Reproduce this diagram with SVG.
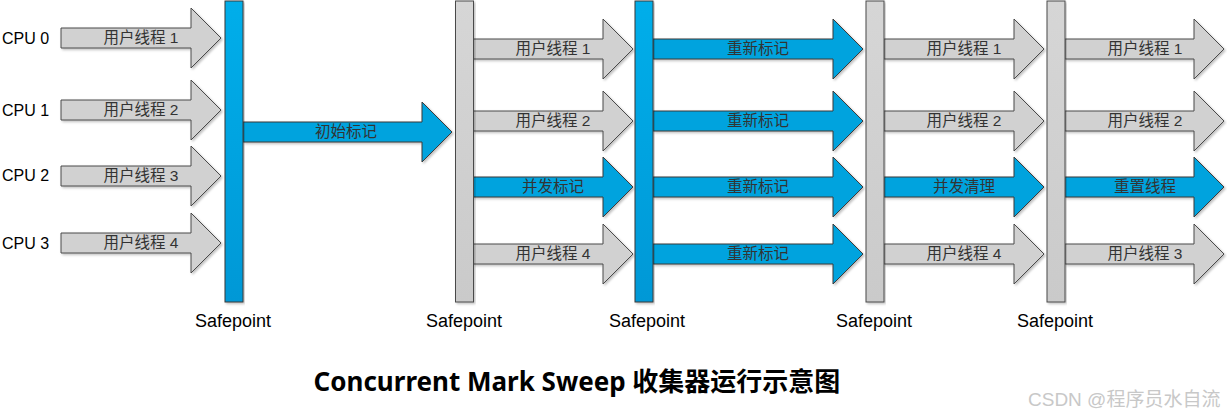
<svg xmlns="http://www.w3.org/2000/svg" width="1227" height="418" viewBox="0 0 1227 418">
<defs>
<linearGradient id="gBlue" x1="0" y1="0" x2="0" y2="1"><stop offset="0" stop-color="#00aeea"/><stop offset="1" stop-color="#0098d6"/></linearGradient>
<linearGradient id="gGray" x1="0" y1="0" x2="0" y2="1"><stop offset="0" stop-color="#d6d6d6"/><stop offset="1" stop-color="#cacaca"/></linearGradient>
<filter id="sh" x="-5%" y="-5%" width="115%" height="115%"><feDropShadow dx="1.5" dy="1.5" stdDeviation="1" flood-color="#000" flood-opacity="0.25"/></filter>
</defs>
<style>
.ga{fill:#d1d1d1;stroke:#4a4a4a;stroke-width:1;filter:url(#sh)}
.ba{fill:#00a3de;stroke:#3a3a3a;stroke-width:1;filter:url(#sh)}
.gb{fill:url(#gGray);stroke:#4a4a4a;stroke-width:1;filter:url(#sh)}
.bb{fill:url(#gBlue);stroke:#3a3a3a;stroke-width:1;filter:url(#sh)}
.lbl{font-family:"Liberation Sans","Noto Sans CJK SC",sans-serif;font-size:15.5px;fill:#333;text-anchor:middle}
.cpu{font-family:"Liberation Sans","Noto Sans CJK SC",sans-serif;font-size:16px;fill:#000}
.sp{font-family:"Liberation Sans",sans-serif;font-size:18px;fill:#000;text-anchor:middle}
.title{font-family:"Noto Sans","Noto Sans CJK SC",sans-serif;font-size:26px;font-weight:bold;fill:#000;text-anchor:middle}
.wm{font-family:"Liberation Sans","Noto Sans CJK SC",sans-serif;font-size:19px;fill:#c8c8c8}
</style>
<rect width="1227" height="418" fill="#fff"/>

<g id="cpu-labels">
<text class="cpu" x="2" y="44">CPU 0</text>
<text class="cpu" x="2" y="116">CPU 1</text>
<text class="cpu" x="2" y="181">CPU 2</text>
<text class="cpu" x="2" y="249">CPU 3</text>
</g>

<g id="connectors">
<!-- column 1 -->
<g id="c1r1"><polygon class="ga" points="61,28 191,28 191,8 221,38 191,68 191,48 61,48"/><text class="lbl" x="141" y="43">用户线程 1</text></g>
<g id="c1r2"><polygon class="ga" points="61,100 191,100 191,80 221,110 191,140 191,120 61,120"/><text class="lbl" x="141" y="115">用户线程 2</text></g>
<g id="c1r3"><polygon class="ga" points="61,166 191,166 191,146 221,176 191,206 191,186 61,186"/><text class="lbl" x="141" y="181">用户线程 3</text></g>
<g id="c1r4"><polygon class="ga" points="61,233 191,233 191,213 221,243 191,273 191,253 61,253"/><text class="lbl" x="141" y="248">用户线程 4</text></g>
<!-- initial mark -->
<g id="init"><polygon class="ba" points="243,122 422,122 422,102 452,132 422,162 422,142 243,142"/><text class="lbl" x="346" y="137">初始标记</text></g>
<!-- column 2 -->
<g id="c2r1"><polygon class="ga" points="473,39 603,39 603,19 633,49 603,79 603,59 473,59"/><text class="lbl" x="553" y="54">用户线程 1</text></g>
<g id="c2r2"><polygon class="ga" points="473,111 603,111 603,91 633,121 603,151 603,131 473,131"/><text class="lbl" x="553" y="126">用户线程 2</text></g>
<g id="c2r3"><polygon class="ba" points="473,177 603,177 603,157 633,187 603,217 603,197 473,197"/><text class="lbl" x="553" y="192">并发标记</text></g>
<g id="c2r4"><polygon class="ga" points="473,244 603,244 603,224 633,254 603,284 603,264 473,264"/><text class="lbl" x="553" y="259">用户线程 4</text></g>
<!-- column 3 -->
<g id="c3r1"><polygon class="ba" points="653,39 833,39 833,19 863,49 833,79 833,59 653,59"/><text class="lbl" x="758" y="54">重新标记</text></g>
<g id="c3r2"><polygon class="ba" points="653,111 833,111 833,91 863,121 833,151 833,131 653,131"/><text class="lbl" x="758" y="126">重新标记</text></g>
<g id="c3r3"><polygon class="ba" points="653,177 833,177 833,157 863,187 833,217 833,197 653,197"/><text class="lbl" x="758" y="192">重新标记</text></g>
<g id="c3r4"><polygon class="ba" points="653,244 833,244 833,224 863,254 833,284 833,264 653,264"/><text class="lbl" x="758" y="259">重新标记</text></g>
<!-- column 4 -->
<g id="c4r1"><polygon class="ga" points="884,39 1014,39 1014,19 1044,49 1014,79 1014,59 884,59"/><text class="lbl" x="964" y="54">用户线程 1</text></g>
<g id="c4r2"><polygon class="ga" points="884,111 1014,111 1014,91 1044,121 1014,151 1014,131 884,131"/><text class="lbl" x="964" y="126">用户线程 2</text></g>
<g id="c4r3"><polygon class="ba" points="884,177 1014,177 1014,157 1044,187 1014,217 1014,197 884,197"/><text class="lbl" x="964" y="192">并发清理</text></g>
<g id="c4r4"><polygon class="ga" points="884,244 1014,244 1014,224 1044,254 1014,284 1014,264 884,264"/><text class="lbl" x="964" y="259">用户线程 4</text></g>
<!-- column 5 -->
<g id="c5r1"><polygon class="ga" points="1065,39 1194,39 1194,19 1224,49 1194,79 1194,59 1065,59"/><text class="lbl" x="1145" y="54">用户线程 1</text></g>
<g id="c5r2"><polygon class="ga" points="1065,111 1194,111 1194,91 1224,121 1194,151 1194,131 1065,131"/><text class="lbl" x="1145" y="126">用户线程 2</text></g>
<g id="c5r3"><polygon class="ba" points="1065,177 1194,177 1194,157 1224,187 1194,217 1194,197 1065,197"/><text class="lbl" x="1145" y="192">重置线程</text></g>
<g id="c5r4"><polygon class="ga" points="1065,244 1194,244 1194,224 1224,254 1194,284 1194,264 1065,264"/><text class="lbl" x="1145" y="259">用户线程 3</text></g>
</g>

<g id="safepoint1"><rect class="bb" x="225" y="1" width="18" height="301"/><text class="sp" x="233" y="327">Safepoint</text></g>
<g id="safepoint2"><rect class="gb" x="455.5" y="1" width="18" height="301"/><text class="sp" x="464" y="327">Safepoint</text></g>
<g id="safepoint3"><rect class="bb" x="635" y="1" width="18" height="301"/><text class="sp" x="647" y="327">Safepoint</text></g>
<g id="safepoint4"><rect class="gb" x="866" y="1" width="18" height="301"/><text class="sp" x="874" y="327">Safepoint</text></g>
<g id="safepoint5"><rect class="gb" x="1047" y="1" width="18" height="301"/><text class="sp" x="1055" y="327">Safepoint</text></g>

<g id="title"><text class="title" x="577" y="391">Concurrent Mark Sweep 收集器运行示意图</text></g>
<text class="wm" x="1028" y="406">CSDN @程序员水自流</text>
</svg>
